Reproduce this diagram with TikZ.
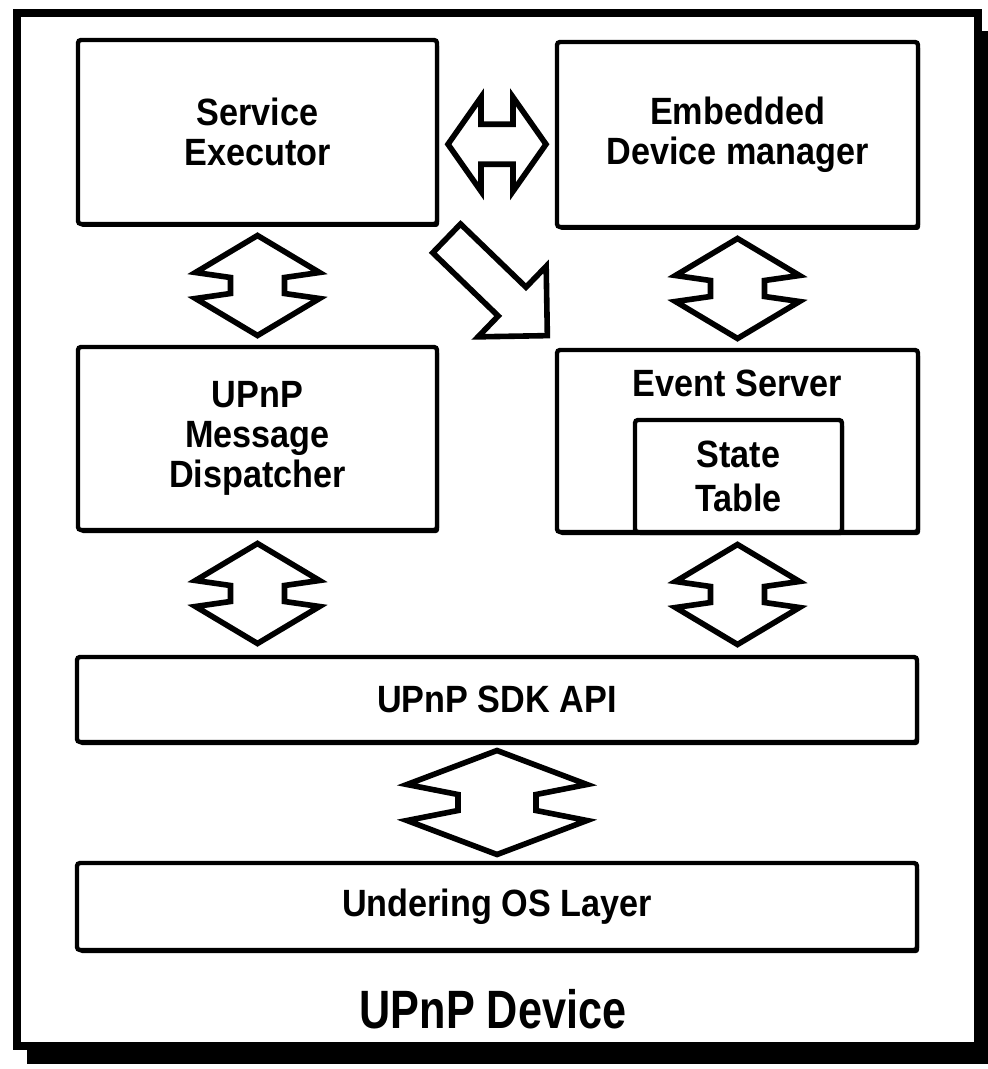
\documentclass[tikz,border=0pt]{standalone}
\usepackage{fontspec}
\setmainfont{Liberation Sans}[FakeStretch=0.9]
\newfontfamily\devfont{Liberation Sans}[FakeStretch=0.8]
\usetikzlibrary{calc,shadows}
\tikzset{
  layer/.style={draw, line width=2.2pt, rounded corners=1.5pt, fill=white,
    align=center, font=\bfseries\fontsize{19}{20}\selectfont,
    drop shadow={shadow xshift=1pt, shadow yshift=-1.5pt, opacity=1, fill=black}},
  caption/.style={font=\bfseries\fontsize{19}{20}\selectfont, align=center},
  blockarrow/.style={draw, line width=2.8pt, fill=white, line join=miter},
}
% center, angle, half length, head length, head half width, shaft half width, slant
\newcommand{\dblarrow}[7]{%
  \draw[blockarrow, shift={(#1)}, rotate=#2]
    (-#3,0) -- ({-#3+#4},-#5) -- ({-#3+#4+#7},-#6) -- ({#3-#4-#7},-#6) -- ({#3-#4},-#5) -- (#3,0)
    -- ({#3-#4},#5) -- ({#3-#4-#7},#6) -- ({-#3+#4+#7},#6) -- ({-#3+#4},#5) -- cycle;}
\newcommand{\onearrow}[6]{%
  \draw[blockarrow, shift={(#1)}, rotate=#2]
    (-#3,-#6) -- ({#3-#4},-#6) -- ({#3-#4},-#5) -- (#3,0)
    -- ({#3-#4},#5) -- ({#3-#4},#6) -- (-#3,#6) -- cycle;}
\begin{document}
\begin{tikzpicture}[x=0.5pt, y=-0.5pt]
  \useasboundingbox (0,0) rectangle (988,1069);
  % outer device frame
  \node[draw, line width=4pt, fill=white, minimum width=480.5pt, minimum height=516.5pt,
    drop shadow={shadow xshift=5pt, shadow yshift=-9pt, opacity=1, fill=black}]
    (frame) at (497.5,529.5) {};
  \node[font=\devfont\bfseries\fontsize{27}{30}\selectfont] (dev) at (493,1009) {UPnP Device};

  % layers
  \node[layer, minimum width=179.5pt, minimum height=92pt] (se) at (257.5,132) {Service\\Executor};
  \node[layer, minimum width=180.5pt, minimum height=92.5pt] (edm) at (737.5,134.5) {Embedded\\Device manager};
  \node[layer, minimum width=179.5pt, minimum height=91.5pt] (md) at (257.5,438.5) {UPnP\\Message\\Dispatcher};
  \node[layer, minimum width=180.5pt, minimum height=91pt] (es) at (737.5,441) {};
  \node[caption] (estxt) at (737.5,383) {Event Server};
  \node[layer, drop shadow={opacity=0}, font=\bfseries\fontsize{19}{22}\selectfont,
    minimum width=103.5pt, minimum height=56pt, anchor=south] (st) at ($(es.south)+(1,0)$) {State\\Table};
  \node[layer, minimum width=420pt, minimum height=42.5pt] (sdk) at (497,699.5) {UPnP SDK API};
  \node[layer, minimum width=420pt, minimum height=43.5pt] (os) at (497,906.5) {Undering OS Layer};

  % connectors
  \coordinate (h1) at ($(se.east)!.5!(edm.west)+(0,11)$);
  \coordinate (d1) at ($(se.south east)!.5!(es.north west)$);
  \coordinate (a1) at ($(se.south)!.5!(md.north)$);
  \coordinate (a2) at ($(edm.south)!.5!(es.north)$);
  \coordinate (a3) at ($(md.south)!.5!(md.south|-sdk.north)$);
  \coordinate (a4) at ($(es.south)!.5!(es.south|-sdk.north)$);
  \coordinate (a5) at ($(sdk.south)!.5!(os.north)$);
  \dblarrow{h1}{0}{49}{33}{47}{20}{0}
  \onearrow{d1}{-44}{70}{49}{49}{20}
  \foreach \c in {a1,a2,a3,a4}{
    \dblarrow{\c}{90}{50}{37}{62}{27}{5}
  }
  \dblarrow{a5}{90}{52}{34}{90}{39}{10}
\end{tikzpicture}
\end{document}
